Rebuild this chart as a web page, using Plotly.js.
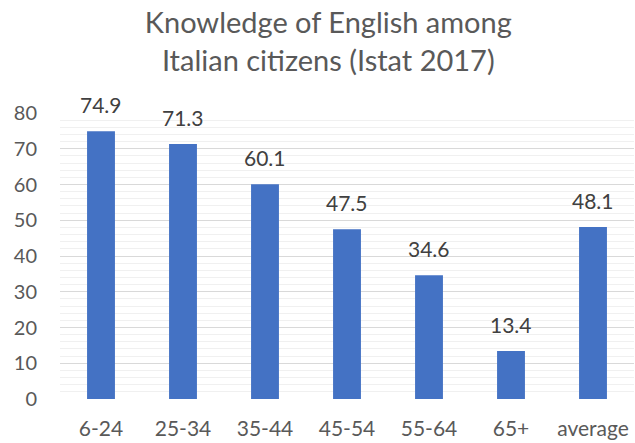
<!DOCTYPE html>
<html><head><meta charset="utf-8">
<script src="https://cdn.plot.ly/plotly-3.0.1.min.js"></script>
<style>html,body{margin:0;padding:0;background:#fff}#chart{width:635px;height:443px}</style>
</head><body><div id="chart"></div>
<script>
const categories = ["6-24","25-34","35-44","45-54","55-64","65+","average"];
const values = [74.9, 71.3, 60.1, 47.5, 34.6, 13.4, 48.1];
const labels = ["74.9","71.3","60.1","47.5","34.6","13.4","48.1"];
const yTicks = [0,10,20,30,40,50,60,70,80];

const font = "Lato, 'Open Sans', sans-serif";
const annotations = categories.map((c, i) => ({
  x: c, y: values[i], xref: 'x', yref: 'y', text: labels[i],
  showarrow: false, yanchor: 'bottom', xanchor: 'center', yshift: 12,
  font: {family: font, size: 21, color: '#404040'}
}));
Plotly.newPlot('chart', [{
  type: 'bar', x: categories, y: values,
  marker: {color: '#4472C4'}, hoverinfo: 'none'
}], {
  width: 635, height: 443,
  margin: {l: 60, r: 1, t: 113, b: 44},
  paper_bgcolor: '#fff', plot_bgcolor: '#fff',
  bargap: 0.66,
  annotations: annotations,
  title: {text: 'Knowledge of English among<br>Italian citizens (Istat 2017)',
    font: {family: font, size: 29, color: '#595959'},
    x: 0.517, xanchor: 'center', yref: 'container', y: 0.925, yanchor: 'top'},
  xaxis: {type: 'category', showgrid: false, zeroline: false, showline: false,
    ticks: '', tickfont: {family: font, size: 21, color: '#595959'}, ticklabelstandoff: 15},
  yaxis: {range: [0, 80], tickvals: yTicks, showgrid: true, gridcolor: '#d9d9d9', gridwidth: 1,
    zeroline: false, showline: false, ticks: '',
    tickfont: {family: font, size: 20, color: '#595959'}, ticklabelstandoff: 22,
    minor: {dtick: 2, showgrid: true, gridcolor: '#f0f0f0', gridwidth: 1}},
  showlegend: false
}, {staticPlot: true, displayModeBar: false});
</script></body></html>
